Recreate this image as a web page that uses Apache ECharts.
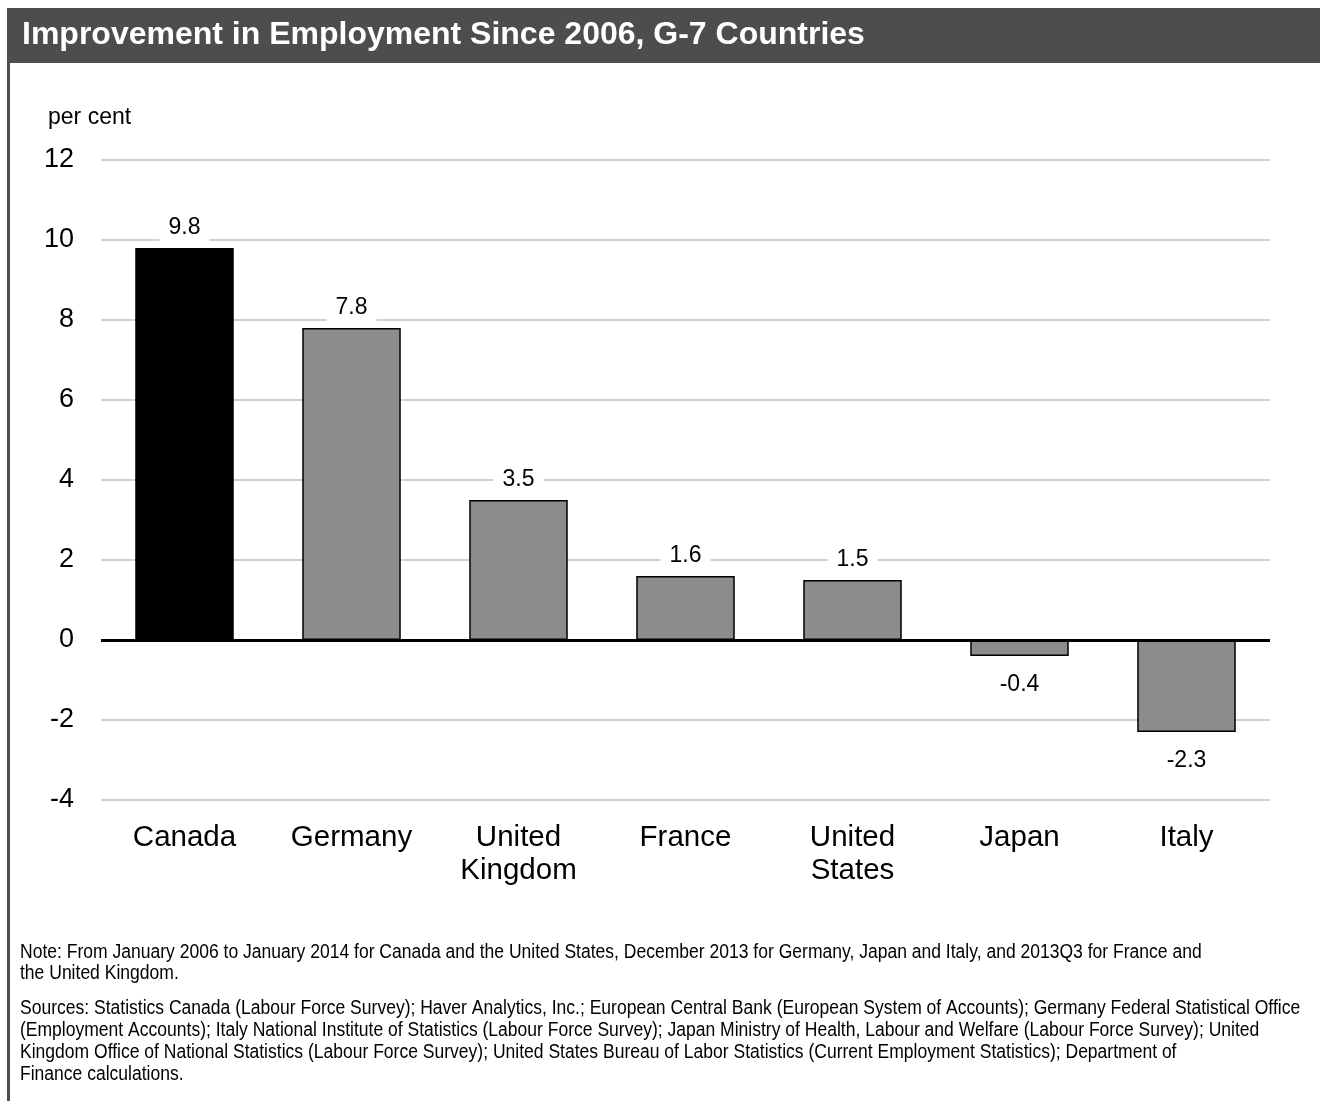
<!DOCTYPE html>
<html>
<head>
<meta charset="utf-8">
<script src="https://cdn.jsdelivr.net/npm/echarts@6/dist/echarts.min.js"></script>
<style>
html,body{margin:0;padding:0;background:#fff;}
#chart{width:1320px;height:1101px;}
</style>
</head>
<body>
<div id="chart"></div>
<script>
var categories = ['Canada', 'Germany', 'United\nKingdom', 'France', 'United\nStates', 'Japan', 'Italy'];
var values = [9.8, 7.8, 3.5, 1.6, 1.5, -0.4, -2.3];
var barColors = ['#000000', '#8c8c8c', '#8c8c8c', '#8c8c8c', '#8c8c8c', '#8c8c8c', '#8c8c8c'];
var yMin = -4, yMax = 12, yInterval = 2;
var titleText = 'Improvement in Employment Since 2006, G-7 Countries';
var unitText = 'per cent';
var noteLines = [
  'Note: From January 2006 to January 2014 for Canada and the United States, December 2013 for Germany, Japan and Italy, and 2013Q3 for France and',
  'the United Kingdom.'
];
var sourceLines = [
  'Sources: Statistics Canada (Labour Force Survey); Haver Analytics, Inc.; European Central Bank (European System of Accounts); Germany Federal Statistical Office',
  '(Employment Accounts); Italy National Institute of Statistics (Labour Force Survey); Japan Ministry of Health, Labour and Welfare (Labour Force Survey); United',
  'Kingdom Office of National Statistics (Labour Force Survey); United States Bureau of Labor Statistics (Current Employment Statistics); Department of',
  'Finance calculations.'
];

var FONT = '"Liberation Sans", Arial, sans-serif';

var chart = echarts.init(document.getElementById('chart'), null, {renderer: 'canvas'});

var seriesData = values.map(function (v, i) {
  var pos = v >= 0;
  return {
    value: v,
    itemStyle: {color: barColors[i]},
    label: pos ? {
      position: 'top', distance: 3,
      backgroundColor: '#ffffff', padding: [4, 9, 6, 9]
    } : {
      position: 'bottom', distance: 17
    }
  };
});

var option = {
  animation: false,
  backgroundColor: '#ffffff',
  grid: {left: 101, right: 50, top: 160, bottom: 301, containLabel: false},
  xAxis: {
    type: 'category',
    data: categories,
    position: 'bottom',
    axisLine: {show: false, onZero: false},
    axisTick: {show: false},
    axisLabel: {
      color: '#000', fontFamily: FONT, fontSize: 29.5, lineHeight: 33,
      margin: 21, interval: 0
    }
  },
  yAxis: {
    type: 'value',
    min: yMin, max: yMax, interval: yInterval,
    axisLine: {show: false},
    axisTick: {show: false},
    axisLabel: {color: '#000', fontFamily: FONT, fontSize: 27, margin: 27},
    splitLine: {lineStyle: {color: '#c0c0c0', width: 1.5}}
  },
  series: [{
    type: 'bar',
    data: seriesData,
    barWidth: '59%',
    itemStyle: {borderColor: '#000', borderWidth: 1.5},
    label: {
      show: true, color: '#000', fontFamily: FONT, fontSize: 23, lineHeight: 23,
      formatter: function (p) { return p.value.toFixed(1); }
    },
    markLine: {
      silent: true, symbol: 'none',
      label: {show: false},
      lineStyle: {color: '#000', width: 3, type: 'solid'},
      data: [{yAxis: 0}]
    }
  }],
  graphic: [
    {type: 'rect', left: 7, top: 8, shape: {width: 1313, height: 55}, style: {fill: '#4d4d4d'}, z: 10},
    {type: 'rect', left: 7, top: 8, shape: {width: 3, height: 1093}, style: {fill: '#4d4d4d'}, z: 10},
    {type: 'text', left: 22, top: 19, z: 11,
      style: {text: titleText, fill: '#fff', font: 'bold 32px ' + FONT}},
    {type: 'text', left: 48, top: 106, z: 11,
      style: {text: unitText, fill: '#000', font: '23px ' + FONT}},
    {type: 'text', x: 20, y: 942, scaleX: 0.876, z: 11,
      style: {text: noteLines.join('\n'), fill: '#000', font: '20px ' + FONT, lineHeight: 21}},
    {type: 'text', x: 20, y: 997, scaleX: 0.876, z: 11,
      style: {text: sourceLines.join('\n'), fill: '#000', font: '20px ' + FONT, lineHeight: 22}}
  ]
};
chart.setOption(option);
</script>
</body>
</html>
